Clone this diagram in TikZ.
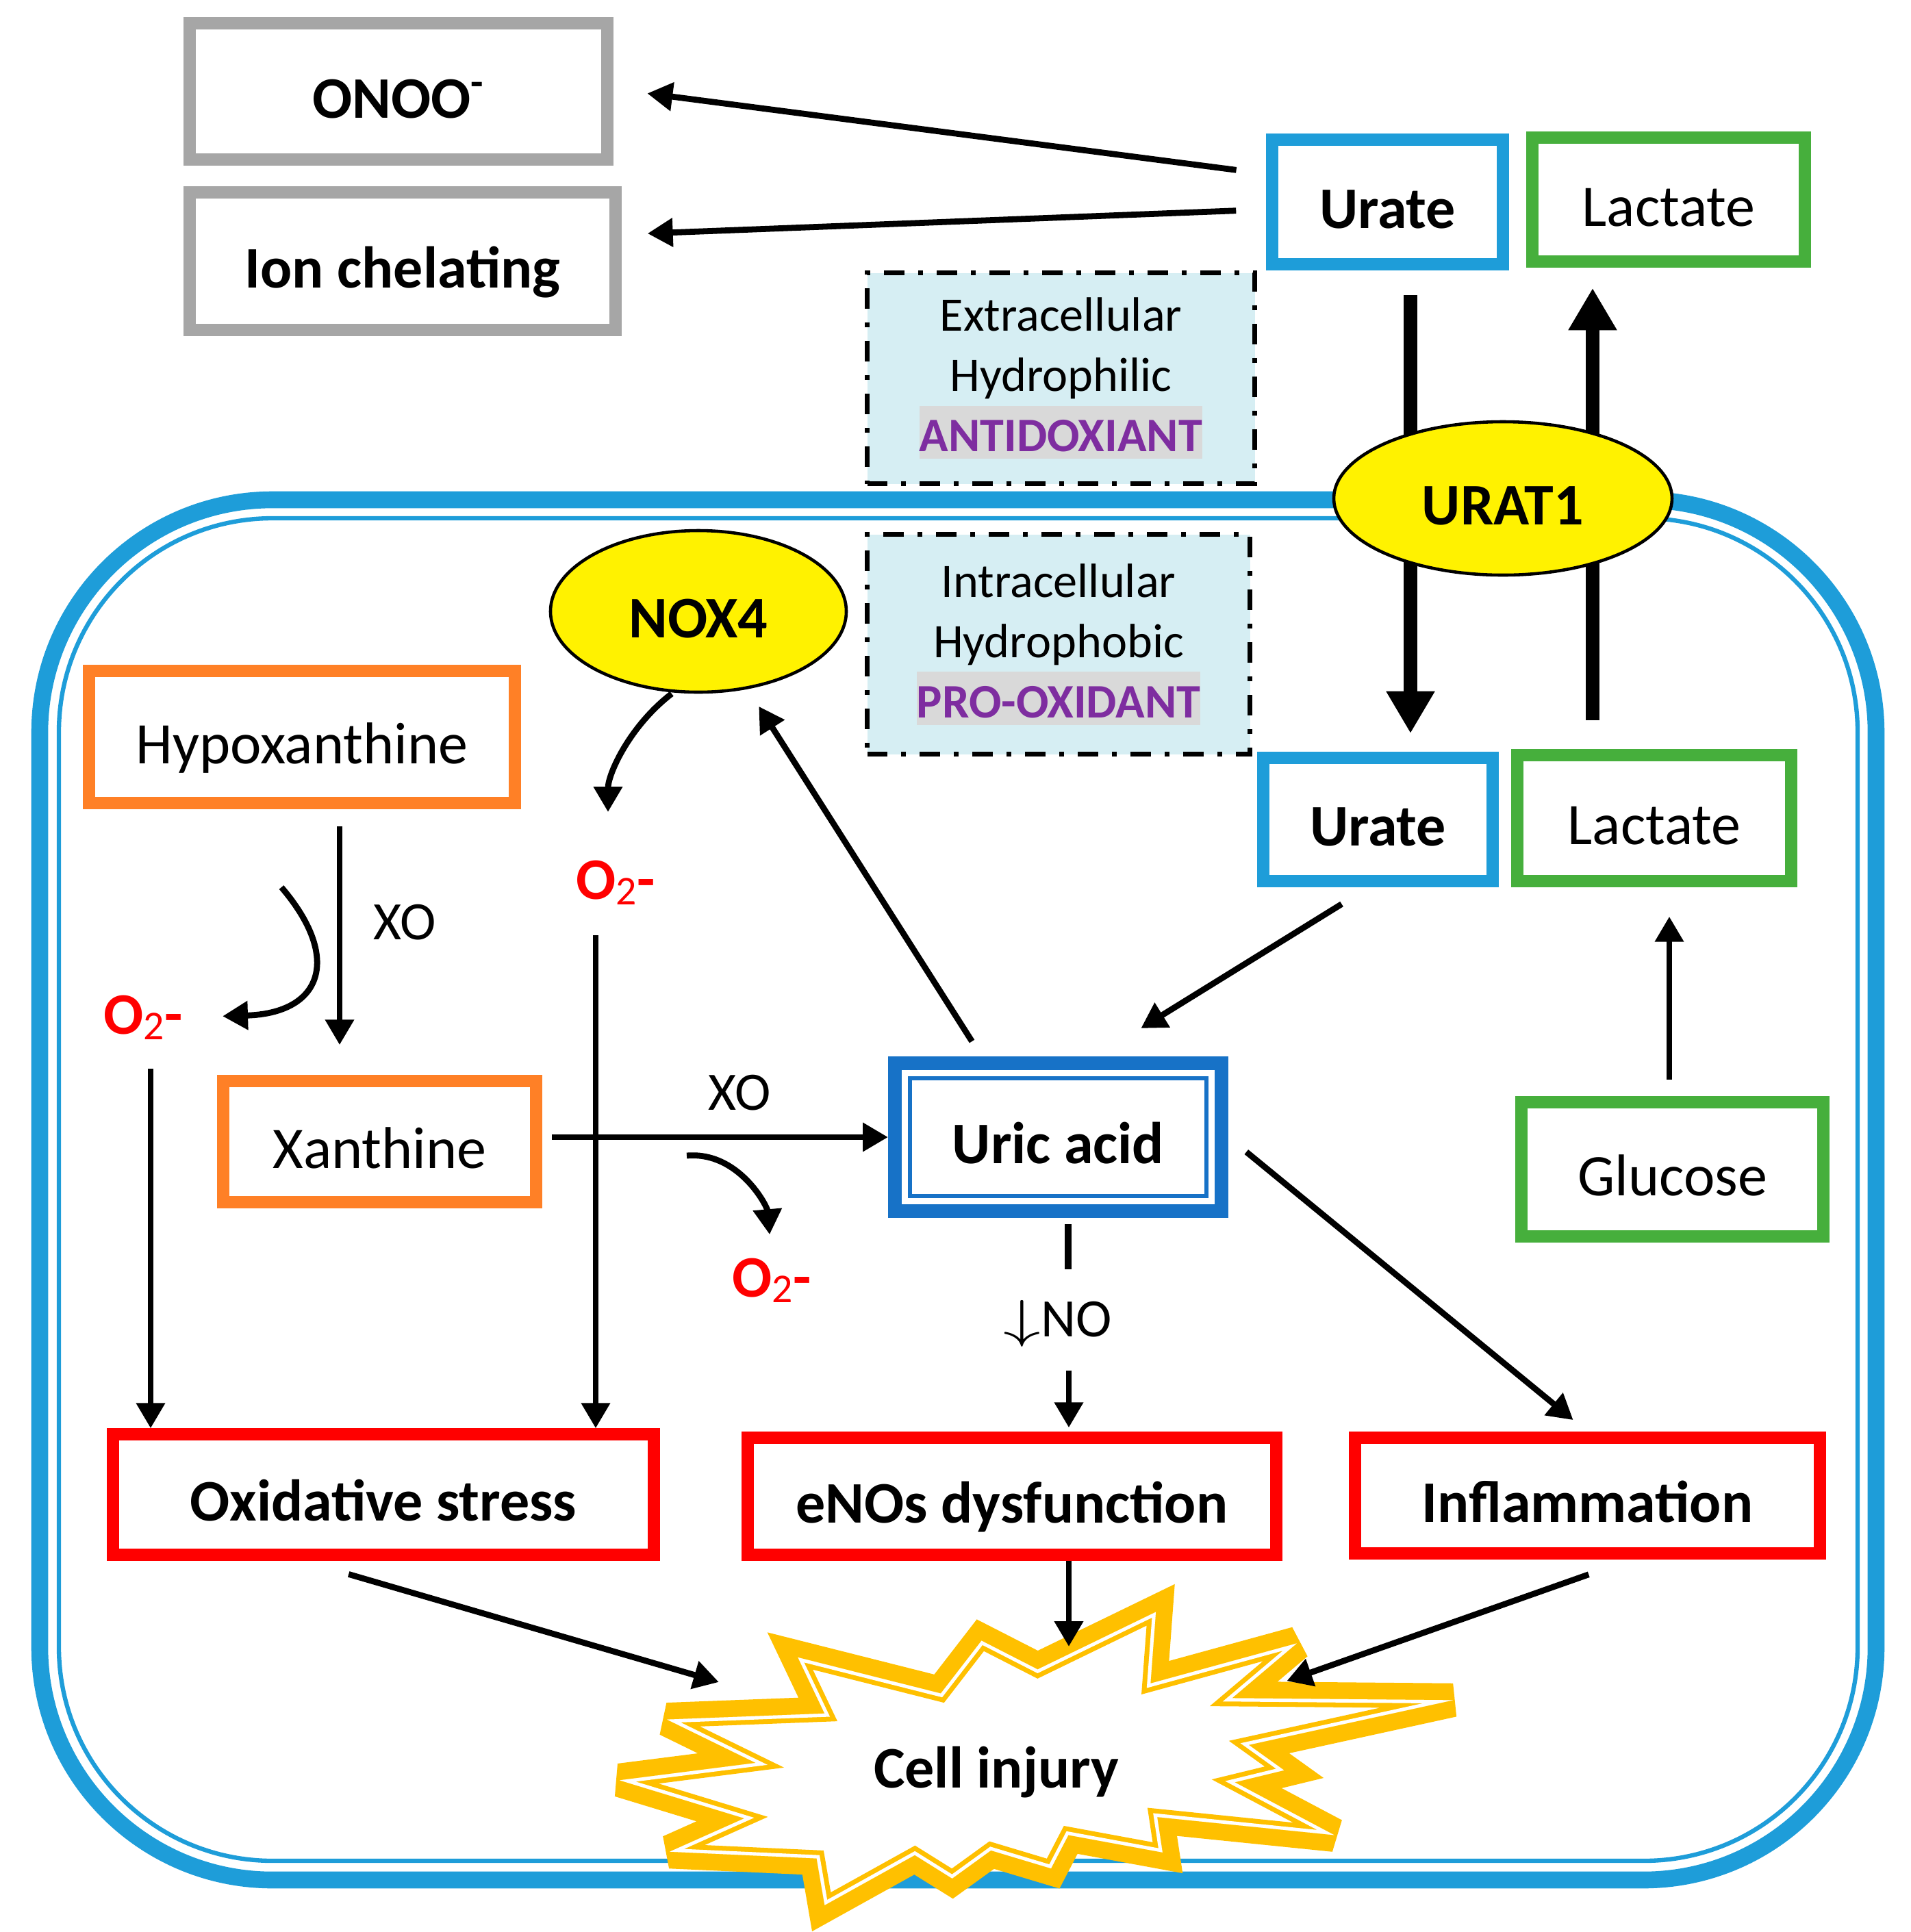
\documentclass[tikz,border=0pt]{standalone}
\usepackage{fontspec}
\setmainfont{Carlito}
\usetikzlibrary{arrows.meta,shapes.geometric}

\definecolor{membraneblue}{RGB}{30,157,217}
\definecolor{uricblue}{RGB}{23,114,199}
\definecolor{leafgreen}{RGB}{70,175,60}
\definecolor{boxorange}{RGB}{255,128,38}
\definecolor{boxgray}{RGB}{166,166,166}
\definecolor{stargold}{RGB}{255,192,0}
\definecolor{paleblue}{RGB}{214,238,243}
\definecolor{hlgray}{RGB}{217,217,217}
\definecolor{labelpurple}{RGB}{126,45,160}

\newcommand{\hilite}[1]{{\setlength{\fboxsep}{0pt}\colorbox{hlgray}{\rule[-3pt]{0pt}{22pt}#1}}}
\newcommand{\superox}{\textbf{O}{\fontsize{17}{17}\selectfont\raisebox{-2.3pt}{2}}\textbf{-}}

\begin{document}
\begin{tikzpicture}[
    cellbox/.style={draw, line width=5pt, inner sep=0pt, text height=22pt, text depth=0pt, font=\fontsize{24.5}{29}\selectfont},
    boldbox/.style={cellbox, font=\fontsize{24.5}{29}\selectfont\bfseries},
    blob/.style={ellipse, draw, line width=1.3pt, fill=yellow, inner sep=0pt, text height=22pt, text depth=0pt, font=\fontsize{24.5}{29}\selectfont\bfseries},
    notebox/.style={draw, line width=2pt, dash pattern=on 8.5pt off 5.7pt on 2pt off 5.7pt, fill=paleblue, inner sep=0pt, align=center, font=\fontsize{20}{25}\selectfont},
    radical/.style={text=red, inner sep=0pt, font=\fontsize{24.5}{29}\selectfont},
    lbl/.style={inner sep=0pt, font=\fontsize{22.5}{27}\selectfont},
    arr/.style={-{Triangle[length=10.5pt,width=11.5pt]}, line width=2.5pt},
    bigarr/.style={-{Triangle[length=17.5pt,width=19pt]}, line width=5.7pt}
]
    % Fix the picture size
    \useasboundingbox (0,0) rectangle (27.90,-28.22);

    % Draw cell membrane
    \draw[membraneblue, line width=7pt, rounded corners=3.4cm] (0.58,-7.30) rectangle (27.40,-27.46);
    \draw[membraneblue, line width=1.8pt, rounded corners=3.12cm] (0.86,-7.57) rectangle (27.13,-27.18);

    % Define coordinates
    \coordinate (inj) at (14.55,-25.75);
    \coordinate (bend1) at (4.11,-12.96);
    \coordinate (bend2) at (10.03,-16.88);

    % Draw the burst
    \def\burst{(16.94,-23.49) -- (16.86,-24.56) -- (19.05,-23.96) -- (18.08,-24.78) -- (21.39,-24.81) -- (18.33,-25.48) -- (18.86,-25.86) -- (18.12,-26.04) -- (19.61,-26.83) -- (16.96,-26.56) -- (17.04,-27.09) -- (15.63,-26.83) -- (15.37,-27.33) -- (14.47,-27.06) -- (13.89,-27.48) -- (13.33,-27.13) -- (11.98,-27.88) -- (11.86,-27.18) -- (9.66,-27.08) -- (10.78,-26.58) -- (8.91,-26.01) -- (10.95,-25.75) -- (9.62,-25.10) -- (11.98,-25.01) -- (11.58,-24.17) -- (13.72,-24.71) -- (14.33,-23.92) -- (15.17,-24.35) -- cycle}
    \begin{scope}[shift={(inj)}, scale=0.975, shift={(-14.55,25.75)}]
        \draw[stargold, line width=14pt, line join=miter, miter limit=3] \burst;
        \fill[white] \burst;
        \begin{scope}
            \clip \burst;
            \draw[stargold, line width=6.8pt] \burst;
            \draw[white, line width=2.8pt] \burst;
        \end{scope}
    \end{scope}
    \node[inner sep=0pt, font=\fontsize{24.5}{29}\selectfont\bfseries] (cell) at (14.55,-25.89) {Cell injury};

    % Outside the cell
    \node[boldbox, draw=boxgray, minimum width=6.10cm, minimum height=1.99cm] (onoo) at (5.82,-1.335) {ONOO\textsuperscript{-}};
    \node[boldbox, draw=boxgray, minimum width=6.22cm, minimum height=2.01cm] (ion) at (5.88,-3.815) {Ion chelating};
    \node[boldbox, draw=membraneblue, minimum width=3.37cm, minimum height=1.82cm] (urt) at (20.265,-2.95) {Urate};
    \node[cellbox, draw=leafgreen, minimum width=3.98cm, minimum height=1.81cm] (lat) at (24.37,-2.915) {Lactate};
    \node[notebox, minimum width=5.66cm, minimum height=3.08cm] (extra) at (15.495,-5.525)
        {Extracellular\\Hydrophilic\\\hilite{\textcolor{labelpurple}{\bfseries ANTIDOXIANT}}};

    % Inside the cell
    \node[notebox, minimum width=5.59cm, minimum height=3.21cm] (intra) at (15.46,-9.41)
        {Intracellular\\Hydrophobic\\\hilite{\textcolor{labelpurple}{\bfseries PRO-OXIDANT}}};
    \node[blob, minimum width=4.32cm, minimum height=2.36cm] (nox) at (10.20,-8.93) {NOX4};
    \node[boldbox, draw=membraneblue, minimum width=3.35cm, minimum height=1.80cm] (urb) at (20.125,-11.97) {Urate};
    \node[cellbox, draw=leafgreen, minimum width=4.00cm, minimum height=1.84cm] (lab) at (24.16,-11.95) {Lactate};
    \node[cellbox, draw=boxorange, minimum width=6.22cm, minimum height=1.93cm] (hyp) at (4.41,-10.765) {Hypoxanthine};
    \node[cellbox, draw=boxorange, minimum width=4.57cm, minimum height=1.77cm] (xan) at (5.545,-16.675) {Xanthine};
    \node[boldbox, draw=uricblue, line width=5.7pt, minimum width=4.77cm, minimum height=2.16cm] (ua) at (15.455,-16.61) {Uric acid};
    \draw[uricblue, line width=1.7pt] ([shift={(0.32,0.32)}]ua.south west) rectangle ([shift={(-0.32,-0.32)}]ua.north east);
    \node[cellbox, draw=leafgreen, minimum width=4.41cm, minimum height=1.96cm] (glu) at (24.425,-17.08) {Glucose};
    \node[boldbox, draw=red, minimum width=7.90cm, minimum height=1.76cm] (ox) at (5.60,-21.83) {Oxidative stress};
    \node[boldbox, draw=red, minimum width=7.72cm, minimum height=1.71cm] (en) at (14.78,-21.855) {eNOs dysfunction};
    \node[boldbox, draw=red, minimum width=6.79cm, minimum height=1.69cm] (inf) at (23.185,-21.845) {Inflammation};

    % Labels
    \node[radical] (o2a) at (2.09,-14.86) {\superox};
    \node[radical] (o2b) at (8.99,-12.89) {\superox};
    \node[radical] (o2c) at (11.27,-18.70) {\superox};
    \node[lbl] (xo1) at (5.91,-13.47) {XO};
    \node[lbl] (xo2) at (10.80,-15.96) {XO};
    \node[lbl] (no) at (15.45,-19.33) {\scalebox{1.5}[1.05]{$\downarrow$}NO};

    % Transport through the membrane
    \draw[bigarr, shorten <=3.6mm, shorten >=2.7mm] ([xshift=3.35mm]urt.south) -- ([xshift=3.35mm]urt.south |- urb.north);
    \draw[bigarr, shorten <=4.2mm, shorten >=3mm] ([xshift=-9mm]lab.north) -- ([xshift=-9mm]lab.north |- lat.south);
    \node[blob, minimum width=4.94cm, minimum height=2.24cm] (urat) at (21.95,-7.28) {URAT1};

    % Draw arrows
    \draw[arr, shorten <=4.4mm, shorten >=5mm] ([yshift=4.1mm]urt.west) -- ([yshift=0.35mm]onoo.east);
    \draw[arr, shorten <=4.4mm, shorten >=3.8mm] ([yshift=-1.1mm]urt.west) -- ([yshift=3.9mm]ion.east);
    \draw[arr, shorten <=2.5mm, shorten >=4.4mm] ([xshift=5.5mm]hyp.south) -- ([xshift=5.5mm]hyp.south |- xan.north);
    \draw[arr, shorten >=5.8mm] (bend1) .. controls (5.00,-14.00) and (4.70,-14.80) .. (o2a.east);
    \draw[arr, shorten <=4.2mm] ([xshift=1.1mm]o2a.south) -- ([xshift=1.1mm]o2a.south |- ox.north);
    \draw[arr, shorten >=7mm] ([xshift=-3.9mm]nox.south) .. controls (9.20,-10.60) and (8.88,-11.30) .. ([xshift=-1.1mm]o2b.north);
    \draw[arr, shorten <=4.4mm] ([xshift=-2.9mm]o2b.south) -- ([xshift=-2.9mm]o2b.south |- ox.north);
    \draw[arr, shorten <=1.4mm] (xan.east |- ua.west) -- (ua.west);
    \draw[arr, shorten >=3.4mm] (bend2) to[out=5, in=95] (o2c.north);
    \draw[arr, shorten <=2.6mm, shorten >=3mm] ([xshift=-11.2mm]ua.north) -- (nox);
    \draw[arr, shorten <=4.7mm, shorten >=7.8mm] ([xshift=-1.3mm]urb.south) -- ([xshift=5.45mm]ua.north);
    \draw[arr, shorten <=2.4mm, shorten >=4.3mm] ([xshift=-0.45mm]glu.north) -- ([xshift=-0.45mm]glu.north |- lab.south);
    \draw[line width=2.8pt, shorten <=0.9mm, shorten >=4.4mm] ([xshift=1.45mm]ua.south) -- ([xshift=1.45mm]ua.south |- no.north);
    \draw[arr, shorten <=3.4mm, shorten >=0.6mm] ([xshift=1.6mm]no.south) -- ([xshift=1.6mm]no.south |- en.north);
    \draw[arr, shorten <=3.4mm, shorten >=2.7mm] (ua.east) -- (inf.north);

    % Arrows into the burst
    \draw[arr, shorten <=7mm, shorten >=4.22cm] ([xshift=-11.8mm]ox.south) -- (inj);
    \draw[arr, shorten >=1.7cm] ([xshift=8.3mm]en.south) -- ([xshift=8.3mm]en.south |- inj);
    \draw[arr, shorten <=6.6mm, shorten >=4.5cm] ([xshift=6.4mm]inf.south) -- ([yshift=-3mm]inj);
\end{tikzpicture}
\end{document}
